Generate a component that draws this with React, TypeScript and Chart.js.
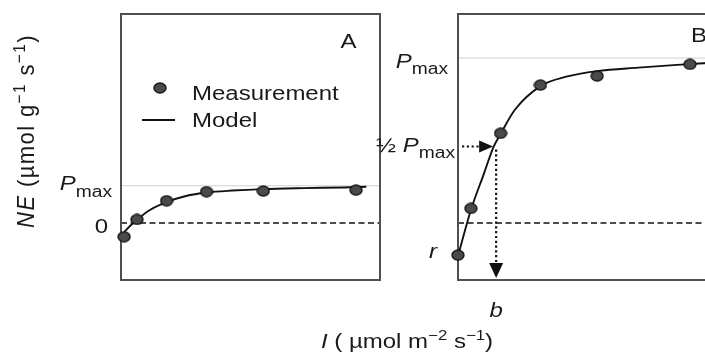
import React, { useEffect, useRef } from "react";
import { Chart, registerables } from "chart.js";

Chart.register(...registerables);

// ---------- data (I in µmol m-2 s-1, NE in µmol g-1 s-1) ----------
const irradianceA = [0, 50, 165, 320, 540, 900];
const measuredA = [-0.83, 0.22, 1.35, 1.9, 1.94, 2.0];
const modelIrradianceA = [0, 25, 50, 100, 165, 240, 320, 420, 540, 700, 850, 940];
const modelA = [-0.55, -0.15, 0.2, 0.79, 1.27, 1.64, 1.85, 1.97, 2.06, 2.12, 2.16, 2.2];
const pmaxA = 2.26;

const irradianceB = [0, 50, 165, 320, 540, 900];
const measuredB = [-1.94, 0.89, 5.44, 8.36, 8.91, 9.62];
const modelIrradianceB = [0, 50, 100, 138, 165, 220, 320, 420, 540, 700, 850, 1005];
const modelB = [-2.0, 0.79, 2.97, 4.62, 5.39, 6.85, 8.3, 8.87, 9.21, 9.42, 9.59, 9.73];
const pmaxB = 10;
const halfPmaxB = 4.64;
const bB = 148;
const rB = -1.94;

const xRangeA = [-12, 993];
const xRangeB = [0, 1005];
const yRange = [-3.45, 12.67];

// ---------- text helpers ----------
type Seg = { t: string; it?: boolean; sub?: boolean; sup?: boolean };
const FAMILY = "'Liberation Sans', Arial, Helvetica, sans-serif";
const TEXT = "#1a1a1a";
const SX = 1.2;

function segFont(s: Seg, size: number) {
  const sz = s.sub ? size * 0.8 : s.sup ? size * 0.7 : size;
  return `${s.it ? "italic " : ""}${sz}px ${FAMILY}`;
}

function drawRich(
  ctx: CanvasRenderingContext2D,
  segs: Seg[],
  x: number,
  y: number,
  size: number,
  align: "left" | "right" | "center",
  rotate = false,
  stretch = SX,
  spacing = 0
) {
  ctx.save();
  ctx.translate(x, y);
  if (rotate) {
    ctx.rotate(-Math.PI / 2);
    ctx.scale(1, stretch);
  } else {
    ctx.scale(stretch, 1);
  }
  (ctx as any).letterSpacing = `${spacing}px`;
  ctx.fillStyle = TEXT;
  ctx.textBaseline = "alphabetic";
  ctx.textAlign = "left";
  let total = 0;
  const widths = segs.map((s) => {
    ctx.font = segFont(s, size);
    const w = ctx.measureText(s.t).width;
    total += w;
    return w;
  });
  let cx = align === "left" ? 0 : align === "right" ? -total : -total / 2;
  segs.forEach((s, i) => {
    ctx.font = segFont(s, size);
    const dy = s.sub ? size * 0.32 : s.sup ? -size * 0.38 : 0;
    ctx.fillText(s.t, cx, dy);
    cx += widths[i];
  });
  ctx.restore();
}

function makeMarker(): HTMLCanvasElement {
  const c = document.createElement("canvas");
  c.width = 14;
  c.height = 12;
  const g = c.getContext("2d")!;
  g.beginPath();
  g.ellipse(7, 6, 6.0, 5.0, 0, 0, Math.PI * 2);
  g.fillStyle = "#4a4a4a";
  g.fill();
  g.lineWidth = 1.4;
  g.strokeStyle = "#161616";
  g.stroke();
  return c;
}

function hLine(ctx: CanvasRenderingContext2D, x1: number, x2: number, y: number) {
  ctx.beginPath();
  ctx.moveTo(x1, y);
  ctx.lineTo(x2, y);
  ctx.stroke();
}

function frameAndRefs(chart: any, pmax: number) {
  const { ctx, chartArea: a, scales } = chart;
  const y = scales.y;
  ctx.save();
  ctx.strokeStyle = "#d0d0d0";
  ctx.lineWidth = 1;
  hLine(ctx, a.left, a.right, y.getPixelForValue(pmax));
  ctx.setLineDash([6, 3.5]);
  ctx.strokeStyle = "#111";
  ctx.lineWidth = 1.6;
  hLine(ctx, a.left, a.right, y.getPixelForValue(0));
  ctx.setLineDash([]);
  ctx.strokeStyle = "#4f4f4f";
  ctx.lineWidth = 2;
  ctx.strokeRect(a.left, a.top, a.right - a.left, a.bottom - a.top);
  ctx.restore();
}

function buildDatasets(xs: number[], ys: number[], mx: number[], my: number[], marker: HTMLCanvasElement) {
  return [
    {
      label: "Measurement",
      data: xs.map((x, i) => ({ x, y: ys[i] })),
      pointStyle: marker as any,
      pointRadius: 6,
      showLine: false,
      order: 0,
      clip: false as any,
    },
    {
      label: "Model",
      data: mx.map((x, i) => ({ x, y: my[i] })),
      showLine: true,
      pointRadius: 0,
      borderColor: "#111",
      borderWidth: 1.9,
      cubicInterpolationMode: "monotone" as const,
      order: 1,
    },
  ];
}

function baseOptions(xr: number[], padding: any): any {
  return {
    responsive: false,
    animation: false,
    events: [],
    layout: { padding },
    scales: {
      x: { type: "linear", min: xr[0], max: xr[1], display: false },
      y: { type: "linear", min: yRange[0], max: yRange[1], display: false },
    },
    plugins: { legend: { display: false }, tooltip: { enabled: false } },
  };
}

export default function App() {
  const refA = useRef<HTMLCanvasElement>(null);
  const refB = useRef<HTMLCanvasElement>(null);

  useEffect(() => {
    const marker = makeMarker();

    const pluginA = {
      id: "panelA",
      beforeDatasetsDraw(chart: any) {
        frameAndRefs(chart, pmaxA);
      },
      afterDraw(chart: any) {
        const { ctx, chartArea: a, scales } = chart;
        const y = scales.y;
        // panel letter
        drawRich(ctx, [{ t: "A" }], a.right - 31.5, a.top + 34, 20, "center");
        // legend
        ctx.drawImage(marker, a.left + 39 - 7, a.top + 74 - 6);
        drawRich(ctx, [{ t: "Measurement" }], a.left + 71, a.top + 86, 20, "left");
        ctx.save();
        ctx.strokeStyle = "#111";
        ctx.lineWidth = 1.9;
        hLine(ctx, a.left + 21, a.left + 54, a.top + 106);
        ctx.restore();
        drawRich(ctx, [{ t: "Model" }], a.left + 71, a.top + 113, 20, "left");
        // y labels
        drawRich(ctx, [{ t: "P", it: true }, { t: "max", sub: true }], a.left - 9, y.getPixelForValue(pmaxA) + 4.5, 20, "right");
        drawRich(ctx, [{ t: "0" }], a.left - 13, y.getPixelForValue(0) + 10, 20, "right");
        // axis titles
        drawRich(
          ctx,
          [
            { t: "NE", it: true },
            { t: " (µmol g" },
            { t: "−1", sup: true },
            { t: " s" },
            { t: "−1", sup: true },
            { t: ")" },
          ],
          34,
          131,
          22,
          "center",
          true,
          1.12,
          1.4
        );
        drawRich(
          ctx,
          [
            { t: "I", it: true },
            { t: " ( µmol m" },
            { t: "−2", sup: true },
            { t: " s" },
            { t: "−1", sup: true },
            { t: ")" },
          ],
          407,
          348,
          20,
          "center"
        );
      },
    };

    const pluginB = {
      id: "panelB",
      beforeDatasetsDraw(chart: any) {
        frameAndRefs(chart, pmaxB);
      },
      afterDatasetsDraw(chart: any) {
        const { ctx, chartArea: a, scales } = chart;
        const yh = scales.y.getPixelForValue(halfPmaxB);
        const xb = scales.x.getPixelForValue(bB);
        ctx.save();
        ctx.strokeStyle = "#111";
        ctx.fillStyle = "#111";
        ctx.lineWidth = 2.2;
        ctx.setLineDash([2.2, 2.6]);
        hLine(ctx, a.left + 4, xb - 14, yh);
        ctx.beginPath();
        ctx.moveTo(xb, yh + 3);
        ctx.lineTo(xb, a.bottom - 15);
        ctx.stroke();
        ctx.setLineDash([]);
        // horizontal head
        ctx.beginPath();
        ctx.moveTo(xb - 3, yh);
        ctx.lineTo(xb - 17, yh - 6);
        ctx.lineTo(xb - 17, yh + 6);
        ctx.closePath();
        ctx.fill();
        // vertical head
        ctx.beginPath();
        ctx.moveTo(xb, a.bottom - 2);
        ctx.lineTo(xb - 7, a.bottom - 17);
        ctx.lineTo(xb + 7, a.bottom - 17);
        ctx.closePath();
        ctx.fill();
        ctx.restore();
      },
      afterDraw(chart: any) {
        const { ctx, chartArea: a, scales } = chart;
        const y = scales.y;
        const x = scales.x;
        drawRich(ctx, [{ t: "B" }], a.left + 241, a.top + 28, 20, "center");
        drawRich(ctx, [{ t: "P", it: true }, { t: "max", sub: true }], a.left - 10, y.getPixelForValue(pmaxB) + 9.5, 20, "right");
        drawRich(
          ctx,
          [{ t: "½ " }, { t: "P", it: true }, { t: "max", sub: true }],
          a.left - 3,
          y.getPixelForValue(halfPmaxB) + 5.5,
          20,
          "right"
        );
        drawRich(ctx, [{ t: "r", it: true }], a.left - 21, y.getPixelForValue(rB) + 3, 20, "right");
        drawRich(ctx, [{ t: "b", it: true }], x.getPixelForValue(bB), a.bottom + 37, 20, "center");
      },
    };

    const chartA = new Chart(refA.current!, {
      type: "scatter",
      data: { datasets: buildDatasets(irradianceA, measuredA, modelIrradianceA, modelA, marker) as any },
      options: baseOptions(xRangeA, { left: 121, right: 705 - 380, top: 14, bottom: 72 }),
      plugins: [pluginA],
    });
    const chartB = new Chart(refB.current!, {
      type: "scatter",
      data: { datasets: buildDatasets(irradianceB, measuredB, modelIrradianceB, modelB, marker) as any },
      options: baseOptions(xRangeB, { left: 458, right: 13, top: 14, bottom: 72 }),
      plugins: [pluginB],
    });
    return () => {
      chartA.destroy();
      chartB.destroy();
    };
  }, []);

  return (
    <div
      style={{
        position: "fixed",
        left: 0,
        top: 0,
        width: 705,
        height: 352,
        overflow: "hidden",
        background: "#fff",
      }}
    >
      <canvas ref={refA} width={705} height={352} style={{ position: "absolute", left: 0, top: 0 }} />
      <canvas ref={refB} width={730} height={352} style={{ position: "absolute", left: 0, top: 0 }} />
    </div>
  );
}
